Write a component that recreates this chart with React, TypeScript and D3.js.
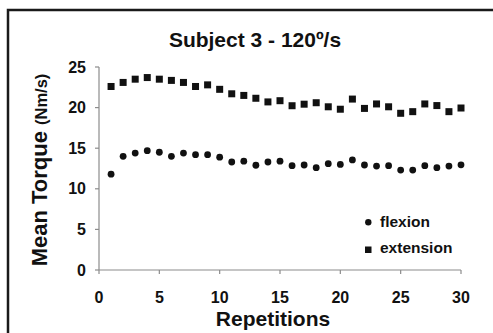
import React from "react";
import * as d3 from "d3";

const repetitions = d3.range(1, 31);
const flexion = [11.8, 14.0, 14.4, 14.7, 14.5, 14.0, 14.4, 14.2, 14.2, 13.9, 13.3, 13.4, 12.9, 13.3, 13.4, 12.85, 12.93, 12.6, 13.1, 13.0, 13.55, 12.93, 12.8, 12.85, 12.3, 12.3, 12.85, 12.6, 12.8, 12.95];
const extension = [22.6, 23.1, 23.5, 23.7, 23.5, 23.35, 23.1, 22.6, 22.8, 22.25, 21.7, 21.5, 21.15, 20.7, 20.85, 20.23, 20.42, 20.6, 20.1, 19.8, 21.05, 19.9, 20.45, 20.1, 19.3, 19.5, 20.45, 20.25, 19.5, 19.95];
const xTicks = [0, 5, 10, 15, 20, 25, 30];
const yTicks = [0, 5, 10, 15, 20, 25];

const FONT = "'Liberation Sans', Arial, sans-serif";

export default function App() {
  const x = d3.scaleLinear().domain([0, 30]).range([99, 461]);
  const y = d3.scaleLinear().domain([0, 25]).range([270, 67]);
  const axisColor = "#8c8c8c";
  return (
    <svg width={493} height={333} style={{ position: "absolute", left: 0, top: 0 }} fontFamily={FONT}>
      <rect x={0} y={0} width={493} height={333} fill="#fff" />
      <rect x={8} y={10} width={520} height={400} fill="none" stroke="#1a1a1a" strokeWidth={2.5} />
      <text x={255} y={46.5} textAnchor="middle" fontSize={21} fontWeight="bold" fill="#111">Subject 3 - 120º/s</text>
      {/* axes */}
      <line x1={x(0)} x2={x(0)} y1={y(25)} y2={y(0)} stroke={axisColor} strokeWidth={1.2} />
      <line x1={x(0)} x2={x(30)} y1={y(0)} y2={y(0)} stroke={axisColor} strokeWidth={1.2} />
      {yTicks.map((t) => (
        <g key={"y" + t}>
          <line x1={x(0) - 4} x2={x(0)} y1={y(t)} y2={y(t)} stroke={axisColor} strokeWidth={1.2} />
          <text x={86} y={y(t) + 5.5} textAnchor="end" fontSize={16} fontWeight="bold" fill="#111">{t}</text>
        </g>
      ))}
      {xTicks.map((t) => (
        <g key={"x" + t}>
          <line x1={x(t)} x2={x(t)} y1={y(0)} y2={y(0) + 4} stroke={axisColor} strokeWidth={1.2} />
          <text x={x(t)} y={303} textAnchor="middle" fontSize={16} fontWeight="bold" fill="#111">{t}</text>
        </g>
      ))}
      <text x={273} y={326} textAnchor="middle" fontSize={21} fontWeight="bold" fill="#111">Repetitions</text>
      <text transform="translate(47,170) rotate(-90)" textAnchor="middle" fontWeight="bold" fill="#111">
        <tspan fontSize={22}>Mean Torque </tspan>
        <tspan fontSize={16.5}>(Nm/s)</tspan>
      </text>
      {/* data */}
      {extension.map((v, i) => (
        <rect key={"e" + i} x={x(repetitions[i]) - 3.5} y={y(v) - 3.5} width={7} height={7} fill="#111" />
      ))}
      {flexion.map((v, i) => (
        <circle key={"f" + i} cx={x(repetitions[i])} cy={y(v)} r={3.4} fill="#111" />
      ))}
      {/* legend */}
      <circle cx={368.3} cy={222.3} r={3.2} fill="#111" />
      <text x={380} y={226.7} fontSize={15.5} fontWeight="bold" fill="#111">flexion</text>
      <rect x={365} y={246.5} width={6.5} height={6.5} fill="#111" />
      <text x={380} y={253.3} fontSize={15.5} fontWeight="bold" fill="#111">extension</text>
    </svg>
  );
}
